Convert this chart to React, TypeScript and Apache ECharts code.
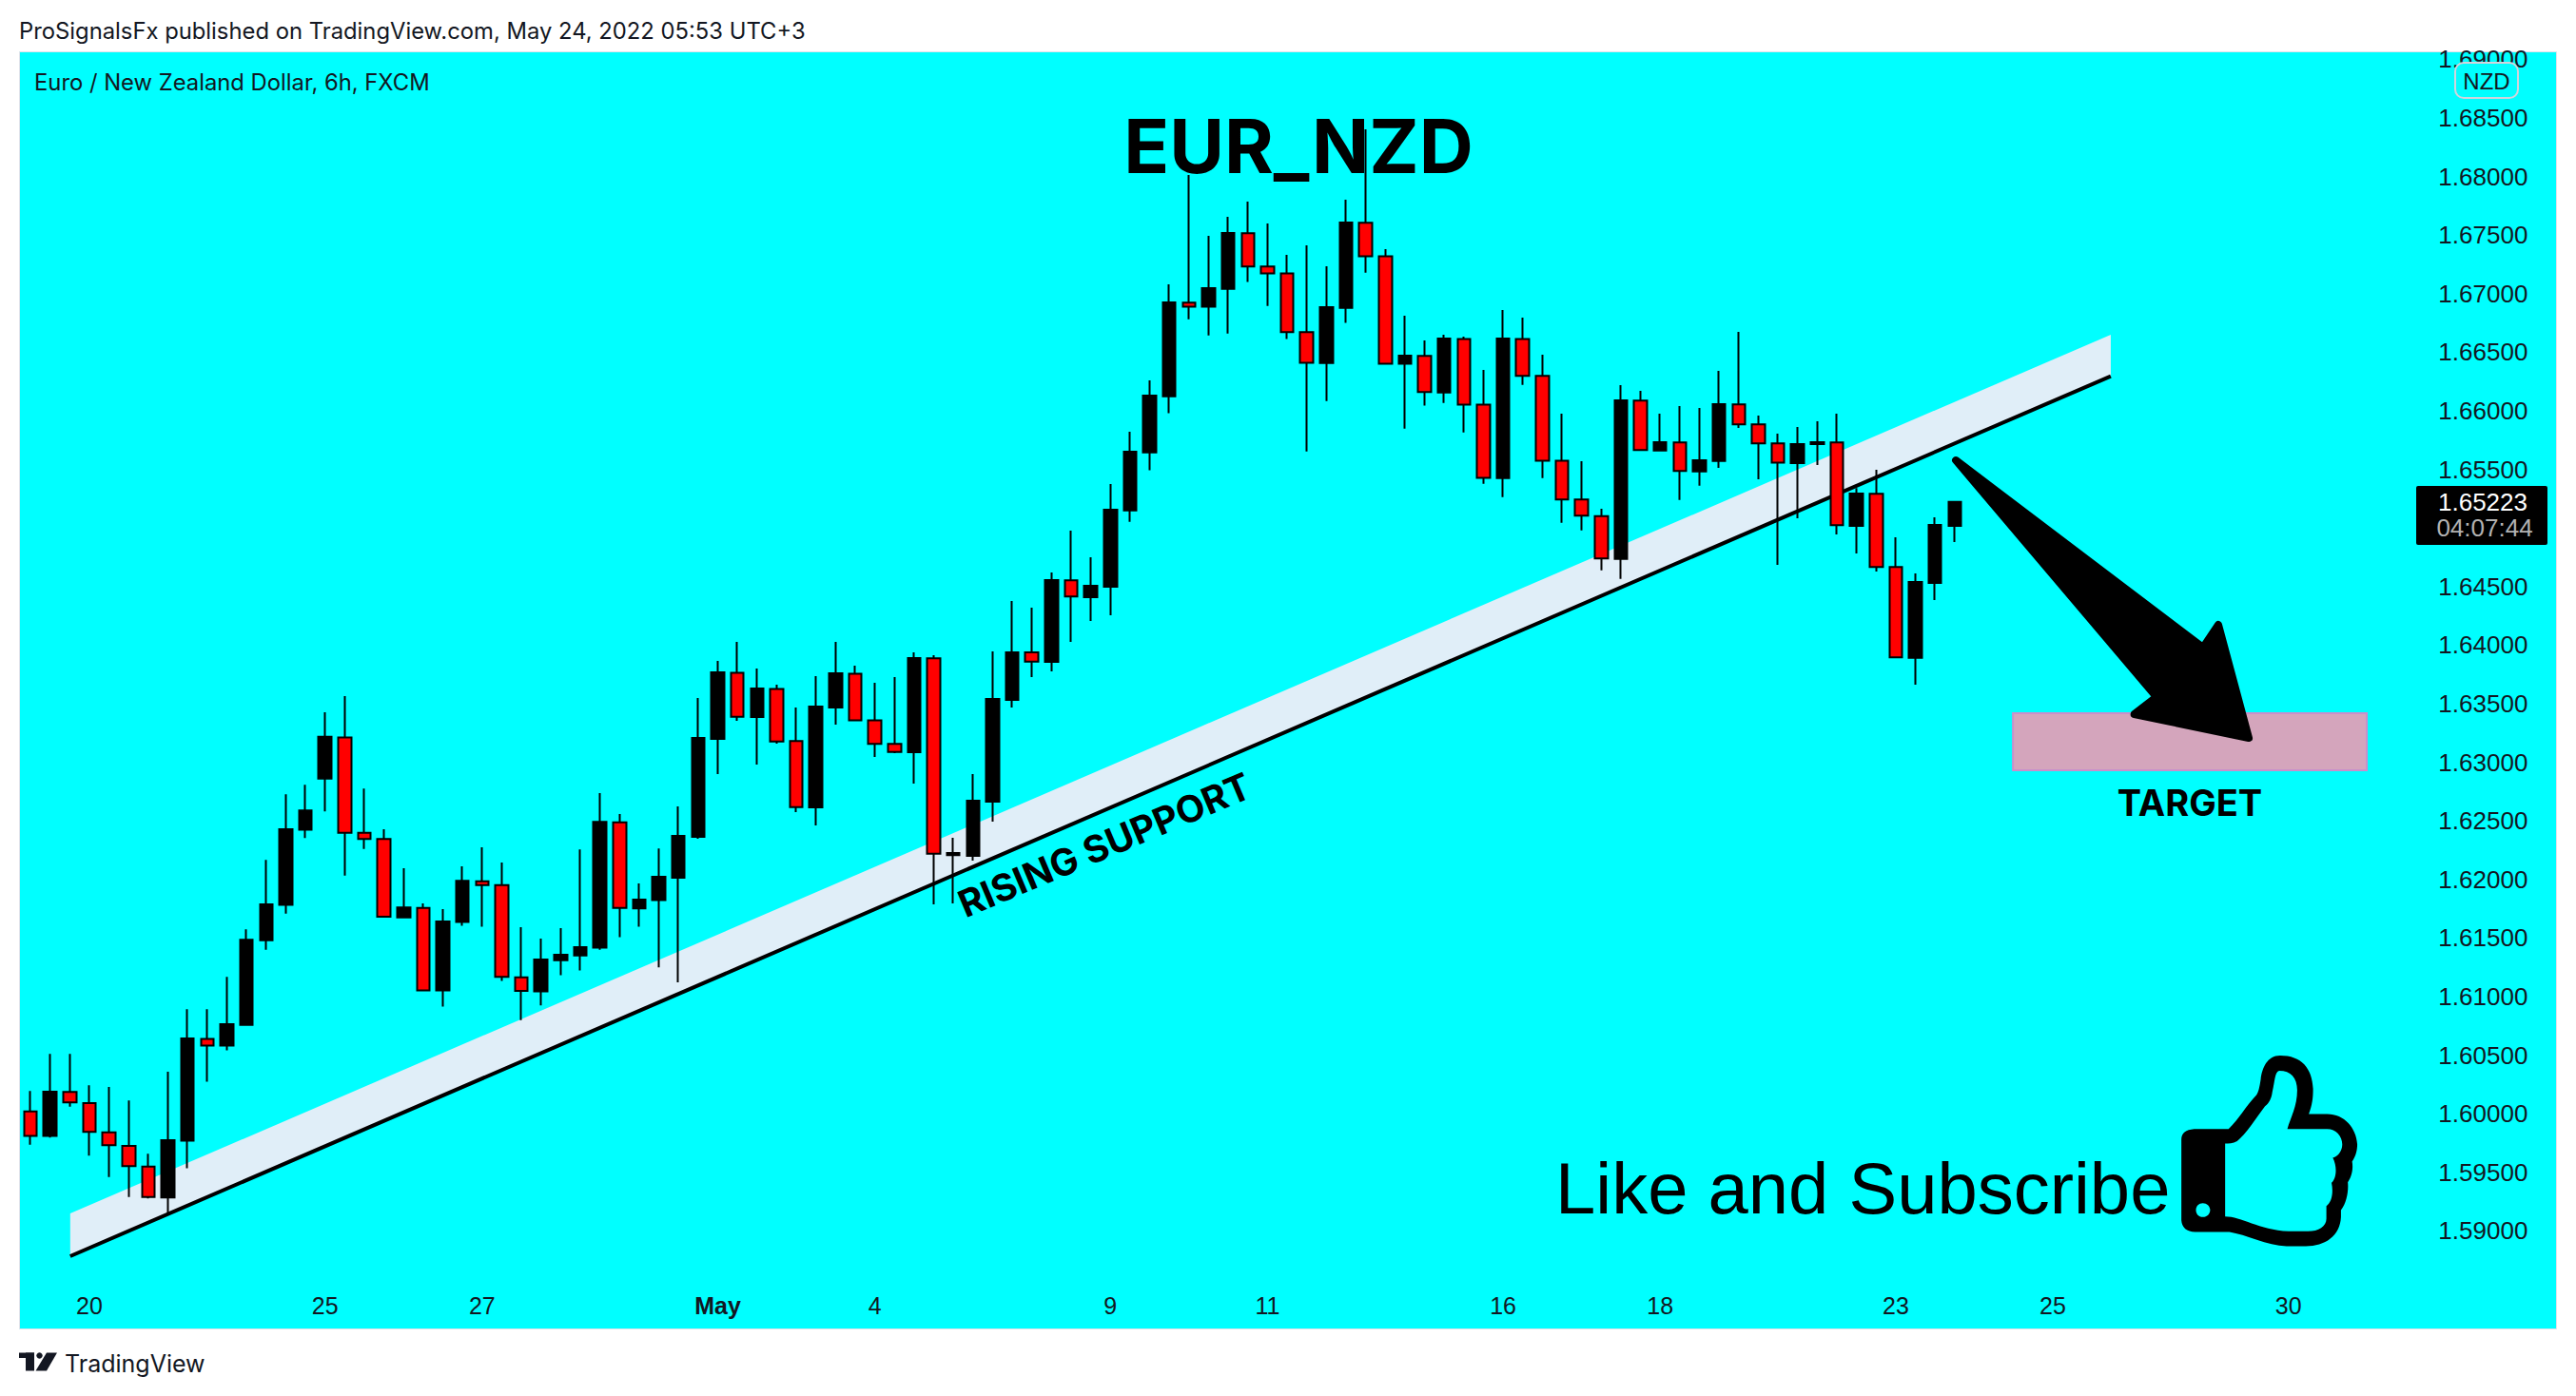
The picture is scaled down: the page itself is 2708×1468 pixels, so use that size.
import React, { useEffect, useRef } from "react";
import * as echarts from "echarts";

// Candles, oldest first (6h bars, EUR/NZD)
const opens = [1.60021,1.59812,1.60186,1.60092,1.59843,1.59727,1.59549,1.59286,1.59772,1.60640,1.60582,1.60760,1.61481,1.61784,1.62425,1.62861,1.63213,1.62398,1.62345,1.61677,1.61757,1.61054,1.61637,1.61984,1.61953,1.61165,1.61045,1.61312,1.61352,1.61419,1.62487,1.61753,1.61824,1.62015,1.62364,1.63200,1.63765,1.63386,1.63627,1.63181,1.62615,1.63468,1.63757,1.63359,1.63157,1.63086,1.63887,1.62207,1.62202,1.62664,1.63533,1.63938,1.63857,1.64553,1.64409,1.64498,1.65151,1.65646,1.66125,1.66923,1.66888,1.67042,1.67515,1.67231,1.67174,1.66671,1.66409,1.66879,1.67605,1.67320,1.66401,1.66468,1.66157,1.66614,1.66054,1.65427,1.66614,1.66298,1.65575,1.65243,1.65102,1.64737,1.66087,1.65662,1.65730,1.65483,1.65573,1.66055,1.65884,1.65722,1.65554,1.65717,1.65730,1.65019,1.65292,1.64667,1.63893,1.64532,1.65019];
const closes = [1.59812,1.60190,1.60097,1.59847,1.59732,1.59554,1.59291,1.59776,1.60644,1.60582,1.60765,1.61486,1.61788,1.62430,1.62590,1.63218,1.62398,1.62345,1.61682,1.61762,1.61054,1.61642,1.61989,1.61953,1.61170,1.61049,1.61317,1.61357,1.61423,1.62492,1.61757,1.61829,1.62024,1.62372,1.63208,1.63768,1.63389,1.63630,1.63178,1.62618,1.63476,1.63760,1.63359,1.63157,1.63089,1.63890,1.62220,1.62226,1.62672,1.63541,1.63938,1.63860,1.64555,1.64415,1.64507,1.65156,1.65651,1.66130,1.66925,1.66888,1.67047,1.67518,1.67231,1.67174,1.66671,1.66411,1.66885,1.67607,1.67320,1.66403,1.66471,1.66160,1.66617,1.66054,1.65429,1.66617,1.66298,1.65575,1.65243,1.65105,1.64740,1.66090,1.65665,1.65732,1.65486,1.65578,1.66057,1.65884,1.65722,1.65557,1.65717,1.65733,1.65024,1.65295,1.64667,1.63896,1.64540,1.65027,1.65223];
const lows = [1.59736,1.59798,1.60061,1.59643,1.59460,1.59291,1.59278,1.59148,1.59536,1.60275,1.60542,1.60760,1.61401,1.61708,1.62354,1.62581,1.62033,1.62260,1.61682,1.61677,1.61045,1.60916,1.61606,1.61597,1.61134,1.60800,1.60925,1.61183,1.61223,1.61401,1.61508,1.61597,1.61250,1.61122,1.62348,1.62900,1.63354,1.62981,1.63159,1.62575,1.62461,1.63322,1.63359,1.63046,1.63078,1.62818,1.61788,1.61796,1.62161,1.62494,1.63468,1.63727,1.63776,1.64028,1.64206,1.64255,1.65053,1.65492,1.65979,1.66782,1.66644,1.66660,1.67099,1.66896,1.66612,1.65654,1.66084,1.66750,1.67180,1.66403,1.65849,1.66044,1.66068,1.65816,1.65378,1.65264,1.66222,1.65427,1.65045,1.64980,1.64639,1.64566,1.65665,1.65662,1.65240,1.65362,1.65514,1.65855,1.65416,1.64686,1.65084,1.65538,1.64946,1.64783,1.64629,1.63896,1.63663,1.64386,1.64881];
const highs = [1.60195,1.60511,1.60511,1.60244,1.60230,1.60114,1.59660,1.60359,1.60894,1.60894,1.61170,1.61575,1.62167,1.62728,1.62808,1.63427,1.63565,1.62777,1.62430,1.62096,1.61797,1.61748,1.62113,1.62274,1.62145,1.61593,1.61495,1.61584,1.62256,1.62737,1.62559,1.61967,1.62265,1.62624,1.63549,1.63865,1.64028,1.63800,1.63662,1.63468,1.63735,1.64028,1.63825,1.63679,1.63727,1.63938,1.63914,1.62356,1.62900,1.63947,1.64377,1.64320,1.64620,1.64977,1.64750,1.65375,1.65822,1.66260,1.67080,1.68013,1.67494,1.67656,1.67786,1.67599,1.67331,1.67412,1.67234,1.67802,1.68403,1.67380,1.66812,1.66601,1.66650,1.66633,1.66349,1.66861,1.66796,1.66479,1.65976,1.65570,1.65164,1.66219,1.66171,1.65976,1.66041,1.66025,1.66342,1.66674,1.65960,1.65806,1.65863,1.65911,1.65976,1.65341,1.65497,1.64921,1.64613,1.65092,1.65223];

// Time axis: bar slots (including the empty future ones) and their date labels
const slotCount = 129;
const tickSlots = [3, 15, 23, 35, 43, 55, 63, 75, 83, 95, 103, 115];
const tickLabels = ["20", "25", "27", "May", "4", "9", "11", "16", "18", "23", "25", "30"];

// Price axis
const priceMin = 1.585;
const priceMax = 1.69;
const priceStep = 0.005;

// Drawings on the chart as [bar slot, price]
const trendLine = [[2.02, 1.58785], [105.95, 1.66296]];
const trendBand = [[2.02, 1.58785], [2.02, 1.5915], [105.95, 1.6665], [105.95, 1.66296]];
const targetZone = [[100.97, 1.63419], [118.99, 1.63419], [118.99, 1.62932], [100.97, 1.62932]];
const arrowShape = [[98.06, 1.65578], [110.65, 1.63979], [111.43, 1.64174], [112.98, 1.63208], [107.15, 1.63411], [108.28, 1.63557]];

const lastPrice = "1.65223";
const countdown = "04:07:44";

const thumbPath =
  "M680 322 Q650 325 650 355 L650 610 Q652 645 682 647 L762 647 C800 655 850 690 895 692 L940 692 C985 692 1020 660 1022 600 L1022 578 C1035 555 1040 520 1038 490 C1050 465 1050 440 1048 425 C1058 405 1060 385 1060 370 C1058 320 1030 275 990 275 L947 275 C955 245 957 225 957 195 C955 130 930 90 880 90 C850 90 838 130 835 165 C832 190 830 205 825 215 C800 250 785 290 760 322 Z " +
  "M752 368 C760 368 770 368 780 360 C800 340 825 285 845 250 C855 240 860 225 862 205 C868 170 868 140 878 138 C905 138 920 160 920 200 C920 250 905 285 897 322 L990 322 C1010 322 1025 345 1025 370 C1025 385 1020 405 1003 413 C1015 445 1010 480 1000 492 C1005 525 1000 555 988 565 L988 605 C988 630 970 645 945 645 L900 645 C830 640 790 598 752 598 Z " +
  "M700 556 C710 556 717 566 717 578 C717 590 710 600 700 600 C690 600 684 590 684 578 C684 566 690 556 700 556 Z";

const INK = "#131722";
const UI = "Inter, sans-serif";
const HELV = '"Liberation Sans", Arial, sans-serif';

function polygonSeries(points: number[][], z: number, style: any) {
  return {
    type: "custom",
    xAxisIndex: 1,
    yAxisIndex: 0,
    z,
    silent: true,
    clip: false,
    data: [points[0]],
    renderItem: (_p: any, api: any) => ({
      type: "polygon",
      shape: { points: points.map((pt) => api.coord(pt)) },
      style,
    }),
  };
}

function lineSeries(points: number[][], z: number, style: any) {
  return {
    type: "custom",
    xAxisIndex: 1,
    yAxisIndex: 0,
    z,
    silent: true,
    clip: false,
    data: [points[0]],
    renderItem: (_p: any, api: any) => ({
      type: "polyline",
      shape: { points: points.map((pt) => api.coord(pt)) },
      style,
    }),
  };
}

export default function App() {
  const ref = useRef<HTMLDivElement>(null);
  useEffect(() => {
    document.body.style.margin = "0";
    echarts.graphic.registerShape("thumb", echarts.graphic.extendPath(thumbPath, {}) as any);
    const chart = echarts.init(ref.current!, undefined, { renderer: "svg" });
    const categories = Array.from({ length: slotCount }, (_, i) => {
      const k = tickSlots.indexOf(i);
      return k >= 0 ? tickLabels[k] : "";
    });
    chart.setOption({
      animation: false,
      backgroundColor: "#ffffff",
      grid: { left: 21.78, top: 62.4, width: 2662.56, height: 1293.7, containLabel: false },
      xAxis: [
        {
          type: "category",
          data: categories,
          boundaryGap: true,
          axisLine: { show: false },
          axisTick: { show: false },
          splitLine: { show: false },
          axisLabel: {
            interval: (i: number) => tickSlots.indexOf(i) >= 0,
            margin: 4,
            color: INK,
            fontFamily: HELV,
            fontSize: 25,
            formatter: (v: string) => (v === "May" ? "{b|May}" : v),
            rich: { b: { fontWeight: "bold", fontSize: 25, fontFamily: HELV, color: INK } },
          },
        },
        { type: "value", min: -0.5, max: slotCount - 0.5, show: false },
      ],
      yAxis: {
        type: "value",
        position: "right",
        min: priceMin,
        max: priceMax,
        interval: priceStep,
        scale: true,
        axisLine: { show: false },
        axisTick: { show: false },
        splitLine: { show: false },
        axisLabel: {
          inside: true,
          margin: 27,
          color: INK,
          fontFamily: HELV,
          fontSize: 26,
          formatter: (v: number) => (Math.abs(v - priceMin) < 1e-6 ? "" : v.toFixed(5)),
        },
      },
      series: [
        polygonSeries(trendBand, 1, { fill: "#e0eef8" }),
        lineSeries(trendLine, 1.5, { stroke: "#000000", lineWidth: 4, fill: "none" }),
        polygonSeries(targetZone, 1, { fill: "#d4a5bc", stroke: "#c98fcb", lineWidth: 2 }),
        {
          type: "candlestick",
          xAxisIndex: 0,
          yAxisIndex: 0,
          z: 2,
          barWidth: 14,
          clip: false,
          data: opens.map((o, i) => [o, closes[i], lows[i], highs[i]]),
          itemStyle: {
            color: "#000000",
            color0: "#ff0000",
            borderColor: "#000000",
            borderColor0: "#000000",
            borderWidth: 2,
          },
        },
        polygonSeries(arrowShape, 3, { fill: "#000000", stroke: "#000000", lineWidth: 8, lineJoin: "round" }),
      ],
      graphic: [
        { type: "rect", z: -10, silent: true, shape: { x: 20.5, y: 54.5, width: 2667, height: 1343 }, style: { fill: "#00ffff", stroke: "#e0e3eb", lineWidth: 1 } },
        { type: "text", z: 50, x: 20, y: 32, style: { text: "ProSignalsFx published on TradingView.com, May 24, 2022 05:53 UTC+3", font: `400 23.8px ${UI}`, fill: INK, align: "left", verticalAlign: "middle" } },
        { type: "text", z: 50, x: 36, y: 86, style: { text: "Euro / New Zealand Dollar, 6h, FXCM", font: `400 23.8px ${UI}`, fill: INK, align: "left", verticalAlign: "middle" } },
        { type: "text", z: 50, x: 1365, y: 153, style: { text: "EUR_NZD", font: `700 79px ${UI}`, fill: "#000000", align: "center", verticalAlign: "middle" } },
        { type: "text", z: 50, x: 2302, y: 844, style: { text: "TARGET", font: `700 38px ${UI}`, fill: "#000000", align: "center", verticalAlign: "middle" } },
        { type: "text", z: 50, x: 1161, y: 888, rotation: 0.4, style: { text: "RISING SUPPORT", font: `700 39.2px ${UI}`, fill: "#000000", align: "center", verticalAlign: "middle" } },
        { type: "text", z: 50, x: 1635, y: 1249, style: { text: "Like and Subscribe", font: `400 76px ${HELV}`, fill: "#000000", align: "left", verticalAlign: "middle" } },
        { type: "thumb", z: 50, x: 2000, y: 1080, scaleX: 1 / 2.215, scaleY: 1 / 3, silent: true, style: { fill: "#000000" } },
        { type: "rect", z: 60, silent: true, shape: { x: 2581, y: 66, width: 66, height: 37, r: 9 }, style: { fill: "#00ffff", stroke: "#d1d4dc", lineWidth: 2 } },
        { type: "text", z: 61, x: 2614, y: 85, style: { text: "NZD", font: `400 24px ${HELV}`, fill: INK, align: "center", verticalAlign: "middle" } },
        { type: "rect", z: 60, silent: true, shape: { x: 2540, y: 511, width: 138, height: 62, r: 2 }, style: { fill: "#000000" } },
        { type: "text", z: 61, x: 2610, y: 528, style: { text: lastPrice, font: `400 26px ${HELV}`, fill: "#ffffff", align: "center", verticalAlign: "middle" } },
        { type: "text", z: 61, x: 2612, y: 555, style: { text: countdown, font: `400 26px ${HELV}`, fill: "#b2b2b2", align: "center", verticalAlign: "middle" } },
        { type: "rect", z: 50, silent: true, shape: { x: 20, y: 1422.5, width: 16, height: 5.5 }, style: { fill: INK } },
        { type: "rect", z: 50, silent: true, shape: { x: 27, y: 1422.5, width: 9, height: 19 }, style: { fill: INK } },
        { type: "circle", z: 50, silent: true, shape: { cx: 41.5, cy: 1425.5, r: 3.2 }, style: { fill: INK } },
        { type: "polygon", z: 50, silent: true, shape: { points: [[60, 1422.5], [49, 1422.5], [37.5, 1441.5], [49, 1441.5]] }, style: { fill: INK } },
        { type: "text", z: 50, x: 68, y: 1434, style: { text: "TradingView", font: `400 25px ${UI}`, fill: INK, align: "left", verticalAlign: "middle" } },
      ],
    });
    return () => chart.dispose();
  }, []);
  return <div ref={ref} style={{ width: 2708, height: 1468, display: "block" }} />;
}
